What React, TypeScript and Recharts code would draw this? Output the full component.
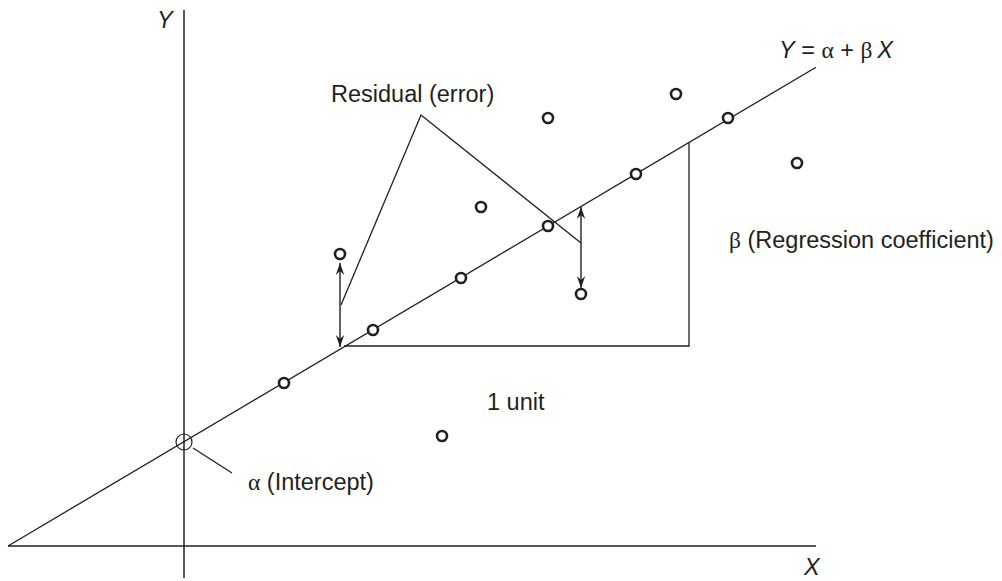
import React from 'react';
import { ScatterChart, Scatter, XAxis, YAxis, ReferenceLine } from 'recharts';

const INK = '#231f20';
const FONT = '"Liberation Sans", Arial, Helvetica, sans-serif';
const GREEK = '"Liberation Serif", "Times New Roman", serif';

// observations that sit on the fitted line
const fittedPoints = [
  { x: 2.5, y: 4.075 },
  { x: 4.725, y: 5.4 },
  { x: 6.925, y: 6.7 },
  { x: 9.1, y: 8.0 },
  { x: 11.3, y: 9.3 },
  { x: 13.6, y: 10.7 },
];
// observations away from the line
const scatterPoints = [
  { x: 3.9, y: 7.3 },
  { x: 7.425, y: 8.475 },
  { x: 9.1, y: 10.7 },
  { x: 9.925, y: 6.3 },
  { x: 12.3, y: 11.3 },
  { x: 15.325, y: 9.575 },
  { x: 6.45, y: 2.75 },
];
const interceptPoint = [{ x: 0, y: 2.6 }];
const regressionLine = [{ x: -4.4, y: 0 }, { x: 15.8, y: 11.97 }];
const xAxisLine = [{ x: -4.4, y: 0 }, { x: 15.8, y: 0 }];
const yAxisLine = [{ x: 0, y: -0.8 }, { x: 0, y: 13.4 }];
const slopeTriangle = [{ x: 4.0, y: 5.0 }, { x: 12.625, y: 5.0 }, { x: 12.625, y: 10.1 }];
const residualLeader = [{ x: 3.925, y: 6.025 }, { x: 5.925, y: 10.775 }, { x: 9.925, y: 7.575 }];
const interceptLeader = [{ x: 0.225, y: 2.45 }, { x: 1.2, y: 1.825 }];
const residualArrows = [
  [{ x: 3.9, y: 4.975 }, { x: 3.9, y: 7.075 }],
  [{ x: 9.925, y: 8.475 }, { x: 9.925, y: 6.45 }],
];

type Part = { t: string; italic?: boolean; greek?: boolean };
const labels: { x: number; y: number; parts: Part[] }[] = [
  { x: -0.675, y: 12.95, parts: [{ t: 'Y', italic: true }] },
  { x: 15.5, y: -0.72, parts: [{ t: 'X', italic: true }] },
  { x: 3.675, y: 11.1, parts: [{ t: 'Residual (error)' }] },
  {
    x: 14.875,
    y: 12.2,
    parts: [
      { t: 'Y', italic: true },
      { t: ' = ' },
      { t: 'α', greek: true },
      { t: ' + ' },
      { t: 'β', greek: true },
      { t: '\u2009' },
      { t: 'X', italic: true },
    ],
  },
  { x: 13.625, y: 7.45, parts: [{ t: 'β', greek: true }, { t: ' (Regression coefficient)' }] },
  { x: 7.575, y: 3.4, parts: [{ t: '1 unit' }] },
  { x: 1.6, y: 1.4, parts: [{ t: 'α', greek: true }, { t: ' (Intercept)' }] },
];

const Empty = () => <g />;

const HollowDot = (p: any) => (
  <circle cx={p.cx} cy={p.cy} r={5} fill="#fff" stroke={INK} strokeWidth={2.6} />
);

const InterceptRing = (p: any) => (
  <circle cx={p.cx} cy={p.cy} r={8} fill="none" stroke={INK} strokeWidth={1.2} />
);

const TextMark = (p: any) => {
  const parts: Part[] = p.payload.parts;
  return (
    <text x={p.cx} y={p.cy} fontFamily={FONT} fontSize={23.5} fill={INK} style={{ whiteSpace: 'pre' }}>
      {parts.map((s, i) => (
        <tspan key={i} fontStyle={s.italic ? 'italic' : undefined} fontFamily={s.greek ? GREEK : undefined}>
          {s.t}
        </tspan>
      ))}
    </text>
  );
};

const head = (tx: number, ty: number, fx: number, fy: number) => {
  const dx = tx - fx;
  const dy = ty - fy;
  const len = Math.hypot(dx, dy) || 1;
  const ux = dx / len;
  const uy = dy / len;
  const nx = -uy;
  const ny = ux;
  const L = 12;
  const W = 4.2;
  const N = 8;
  const pts = [
    [tx, ty],
    [tx - ux * L + nx * W, ty - uy * L + ny * W],
    [tx - ux * N, ty - uy * N],
    [tx - ux * L - nx * W, ty - uy * L - ny * W],
  ]
    .map((q) => q.join(','))
    .join(' ');
  return <polygon points={pts} fill={INK} />;
};

const DoubleArrow = (p: any) => {
  const { x1, y1, x2, y2 } = p;
  return (
    <g>
      <line x1={x1} y1={y1} x2={x2} y2={y2} stroke={INK} strokeWidth={1.4} />
      {head(x1, y1, x2, y2)}
      {head(x2, y2, x1, y1)}
    </g>
  );
};

const seg = (data: { x: number; y: number }[], key: string, w = 1.4) => (
  <Scatter
    key={key}
    data={data}
    line={{ stroke: INK, strokeWidth: w }}
    shape={Empty}
    isAnimationActive={false}
  />
);

export default function App() {
  return (
    <div style={{ position: 'absolute', left: 0, top: 0, background: '#fff' }}>
      <ScatterChart width={1002} height={581} margin={{ top: 0, right: 0, bottom: 0, left: 0 }}>
        <XAxis type="number" dataKey="x" domain={[-4.6, 20.45]} allowDataOverflow hide />
        <YAxis type="number" dataKey="y" domain={[-0.875, 13.65]} allowDataOverflow hide />
        {seg(xAxisLine, 'xa', 1.5)}
        {seg(yAxisLine, 'ya', 1.5)}
        {seg(regressionLine, 'reg', 1.3)}
        {seg(slopeTriangle, 'tri', 1.3)}
        {seg(residualLeader, 'res', 1.3)}
        {seg(interceptLeader, 'int', 1.3)}
        {residualArrows.map((a, i) => (
          <ReferenceLine key={'arr' + i} segment={a} ifOverflow="visible" shape={DoubleArrow} />
        ))}
        <Scatter data={interceptPoint} shape={InterceptRing} isAnimationActive={false} />
        <Scatter data={fittedPoints} shape={HollowDot} isAnimationActive={false} />
        <Scatter data={scatterPoints} shape={HollowDot} isAnimationActive={false} />
        <Scatter data={labels} shape={TextMark} isAnimationActive={false} />
      </ScatterChart>
    </div>
  );
}
